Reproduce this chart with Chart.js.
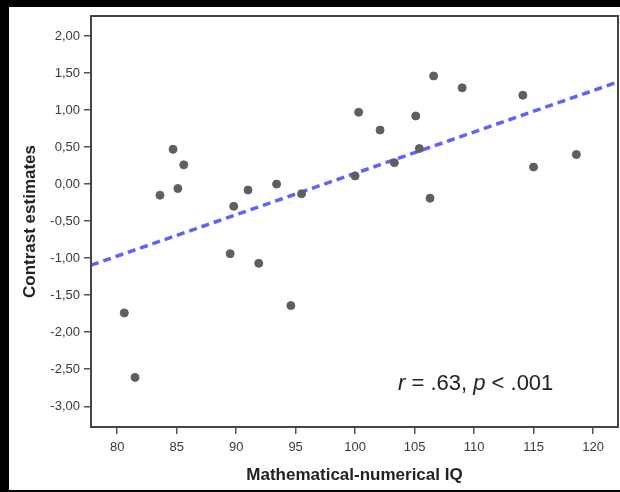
<!DOCTYPE html>
<html>
<head>
<meta charset="utf-8">
<script src="https://cdn.jsdelivr.net/npm/chart.js@4/dist/chart.umd.min.js"></script>
<style>
  html, body { margin: 0; padding: 0; background: #000; }
  #wrap { width: 620px; height: 492px; }
</style>
</head>
<body>
<div id="wrap"><canvas id="graphique" width="620" height="492"></canvas></div>
<script>
// IQ scores (x) and contrast estimates (y)
var iqScores = [80.6, 81.5, 83.6, 84.7, 85.1, 85.6, 89.5, 89.8, 91.0, 91.9, 93.4, 94.6, 95.5,
                100.0, 100.3, 102.1, 103.3, 105.1, 105.4, 106.3, 106.6, 109.0, 114.1, 115.0, 118.6];
var contrasts = [-1.74, -2.61, -0.15, 0.47, -0.06, 0.26, -0.94, -0.30, -0.08, -1.07, 0.00, -1.64, -0.13,
                 0.11, 0.97, 0.73, 0.29, 0.92, 0.48, -0.19, 1.46, 1.30, 1.20, 0.23, 0.40];
// fit line end points
var fitX = [77.8, 122.1];
var fitY = [-1.095, 1.38];
var xTicks = [80, 85, 90, 95, 100, 105, 110, 115, 120];
var yTicks = [2, 1.5, 1, 0.5, 0, -0.5, -1, -1.5, -2, -2.5, -3];

var points = iqScores.map(function(x, i) { return {x: x, y: contrasts[i]}; });
var fitLine = fitX.map(function(x, i) { return {x: x, y: fitY[i]}; });

var fond = {
    id: 'fond',
    beforeDraw: function(chart) {
        var c = chart.ctx;
        c.save();
        c.fillStyle = '#000';
        c.fillRect(0, 0, chart.width, chart.height);
        c.fillStyle = '#fff';
        c.fillRect(9, 7, 611, 483);
        c.restore();
    },
    afterDraw: function(chart) {
        var c = chart.ctx, a = chart.chartArea;
        c.save();
        c.strokeStyle = '#444';
        c.lineWidth = 2;
        c.strokeRect(a.left, a.top, a.right - a.left, a.bottom - a.top);
        // r / p annotation
        var x = 398, y = 390;
        c.fillStyle = '#222';
        c.textBaseline = 'alphabetic';
        var parts = [['r', true], [' = .63, ', false], ['p', true], [' < .001', false]];
        parts.forEach(function(p) {
            c.font = (p[1] ? 'italic ' : '') + '22px "Liberation Sans", Arial, sans-serif';
            c.fillText(p[0], x, y);
            x += c.measureText(p[0]).width;
        });
        c.restore();
    }
};

var ctx = document.getElementById('graphique').getContext('2d');
var graphique = new Chart(ctx, {
    type: 'scatter',
    data: {
        datasets: [{
            data: points,
            backgroundColor: '#5f5f5f',
            borderColor: '#5f5f5f',
            pointRadius: 4,
            pointHoverRadius: 4
        }, {
            type: 'line',
            data: fitLine,
            borderColor: 'rgba(80, 80, 255, 0.9)',
            borderWidth: 3.5,
            borderDash: [8, 5],
            pointRadius: 0,
            fill: false
        }]
    },
    options: {
        responsive: false,
        animation: false,
        layout: { autoPadding: false, padding: { top: 16, right: 2, left: 0, bottom: 0 } },
        plugins: { legend: { display: false }, tooltip: { enabled: false } },
        scales: {
            x: {
                type: 'linear',
                min: 77.8,
                max: 122.1,
                afterFit: function(s) { s.height = 65; s.paddingLeft = 0; s.paddingRight = 0; },
                afterBuildTicks: function(s) { s.ticks = xTicks.map(function(v) { return {value: v}; }); },
                grid: { drawOnChartArea: false, tickLength: 7, color: '#555', lineWidth: 1.5 },
                border: { display: false },
                ticks: { color: '#3a3a3a', padding: 6, font: { family: '"Liberation Sans", Arial, sans-serif', size: 13 } },
                title: {
                    display: true,
                    text: 'Mathematical-numerical IQ',
                    color: '#222',
                    padding: { bottom: 6 },
                    font: { family: '"Liberation Sans", Arial, sans-serif', size: 17, weight: 'bold' }
                }
            },
            y: {
                min: -3.28,
                max: 2.27,
                afterFit: function(s) { s.width = 91; s.paddingTop = 0; s.paddingBottom = 0; },
                afterBuildTicks: function(s) { s.ticks = yTicks.map(function(v) { return {value: v}; }); },
                grid: { drawOnChartArea: false, tickLength: 7, color: '#555', lineWidth: 1.5 },
                border: { display: false },
                ticks: {
                    color: '#3a3a3a',
                    padding: 4,
                    font: { family: '"Liberation Sans", Arial, sans-serif', size: 13 },
                    callback: function(v) { return v.toFixed(2).replace('.', ','); }
                },
                title: {
                    display: true,
                    text: 'Contrast estimates',
                    color: '#222',
                    padding: { top: 20 },
                    font: { family: '"Liberation Sans", Arial, sans-serif', size: 17, weight: 'bold' }
                }
            }
        }
    },
    plugins: [fond]
});
</script>
</body>
</html>
